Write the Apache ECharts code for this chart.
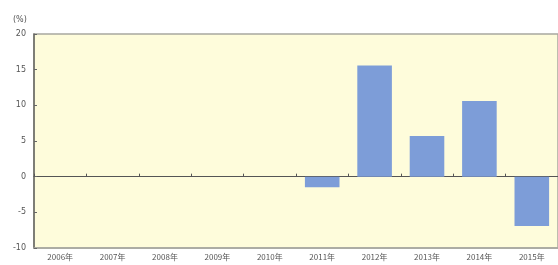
<!DOCTYPE html>
<html lang="ja">

<head>
    <meta charset="UTF-8">
    <title>Growth chart</title>
    <script src="https://cdn.jsdelivr.net/npm/echarts@6/dist/echarts.min.js"></script>
    <style>
        body { margin: 0; background: #fff; }
    </style>
</head>

<body>
    <div id="main" style="width: 558px;height:265px;"></div>

    <script>
        // data
        var years = ["2006年", "2007年", "2008年", "2009年", "2010年", "2011年", "2012年", "2013年", "2014年", "2015年"];
        var rates = [null, null, null, null, null, -1.5, 15.6, 5.7, 10.6, -6.9];
        var unitLabel = "(%)";

        var chart1 = echarts.init(document.getElementById('main'));

        var option = {
            animation: false,
            title: {
                text: unitLabel,
                left: 8,
                top: 11,
                textStyle: { fontSize: 8, color: '#555', fontWeight: 'normal', fontFamily: 'DejaVu Sans' }
            },
            grid: {
                left: 34,
                right: -3,
                top: 34,
                bottom: 17,
                show: true,
                backgroundColor: '#fefcdb',
                borderColor: '#a8a8a0',
                borderWidth: 1.5
            },
            xAxis: [
                {
                    type: 'category',
                    data: years,
                    position: 'bottom',
                    axisLine: { onZero: false, lineStyle: { color: '#a8a8a0', width: 1.5 } },
                    axisTick: { show: false },
                    axisLabel: { fontSize: 8, color: '#555', margin: 5, interval: 0, fontFamily: 'Noto Sans CJK JP' }
                },
                {
                    type: 'category',
                    data: years,
                    position: 'bottom',
                    axisLine: { onZero: true, lineStyle: { color: '#555', width: 1.2 } },
                    axisTick: { show: true, inside: true, length: 3, lineStyle: { color: '#555' } },
                    axisLabel: { show: false }
                }
            ],
            yAxis: {
                type: 'value',
                min: -10,
                max: 20,
                interval: 5,
                axisLine: { show: true, lineStyle: { color: '#6a6a62', width: 1.5 } },
                axisTick: { show: true, inside: true, length: 3, lineStyle: { color: '#666' } },
                axisLabel: { fontSize: 8, color: '#555', margin: 8, fontFamily: 'DejaVu Sans' },
                splitLine: { show: false }
            },
            series: [
                {
                    type: 'bar',
                    xAxisIndex: 0,
                    data: rates,
                    barWidth: '66%',
                    itemStyle: { color: '#7d9dd8' }
                }
            ]
        };

        chart1.setOption(option);
    </script>
</body>

</html>
